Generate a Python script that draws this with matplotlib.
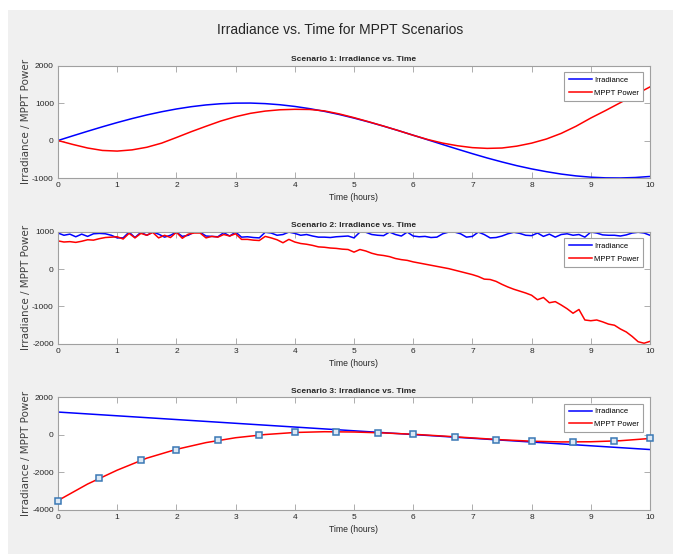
import matplotlib
matplotlib.use('Agg')
from matplotlib import pyplot as plt
from matplotlib.patches import Rectangle
import numpy as np

# scenario 1 (0.25 h step)
t1 = np.arange(0, 10.01, 0.25)
irr1 = [0, 125, 247, 366, 479, 585, 682, 767, 841, 902, 949, 981, 997, 999, 984, 954,
        909, 850, 778, 694, 598, 494, 382, 264, 141, 17, -108, -231, -351, -466, -572,
        -671, -757, -831, -895, -944, -978, -996, -999, -987, -959]
pow1 = [0, -105, -200, -265, -282, -250, -180, -70, 80, 235, 380, 520, 635, 725,
        785, 820, 832, 828, 790, 710, 610, 500, 385, 265, 140, 25, -70, -140, -190,
        -210, -200, -150, -70, 40, 190, 380, 600, 800, 1010, 1220, 1430]

# scenario 2 (0.1 h step)
t2 = np.arange(0, 10.001, 0.1)
irr2 = [960, 900, 930, 860, 930, 870, 940, 950, 940, 900, 830,
        830, 985, 840, 980, 900, 985, 930, 850, 900, 985,
        870, 900, 985, 980, 880, 870, 860, 970, 880, 985,
        850, 860, 840, 830, 980, 960, 900, 920, 985, 950,
        900, 920, 880, 850, 850, 840, 860, 870, 880, 830,
        985, 980, 920, 900, 890, 985, 920, 880, 985, 880,
        860, 870, 840, 850, 940, 985, 985, 940, 850, 870,
        985, 920, 830, 840, 880, 940, 980, 950, 900, 890,
        960, 870, 930, 850, 920, 940, 900, 920, 850, 985,
        960, 910, 900, 900, 880, 910, 960, 980, 960, 900]
pow2 = [750, 720, 730, 710, 740, 780, 770, 810, 840, 850, 860,
        800, 950, 830, 950, 900, 975, 830, 900, 840, 980,
        820, 930, 960, 960, 830, 870, 850, 920, 880, 940,
        790, 790, 770, 760, 870, 830, 780, 700, 790, 720,
        680, 660, 630, 590, 580, 560, 550, 530, 520, 450,
        520, 480, 420, 380, 360, 330, 280, 250, 230, 190,
        160, 130, 100, 70, 40, 10, -30, -70, -110, -150,
        -200, -270, -280, -330, -410, -480, -540, -590, -640, -700,
        -820, -760, -900, -870, -960, -1060, -1180, -1080, -1360, -1380,
        -1360, -1410, -1470, -1500, -1600, -1680, -1800, -1940, -1980, -1930]

# scenario 3
t3_irr = [0, 10]
irr3 = [1200, -800]
t3 = np.arange(0, 10.01, 0.5)
pow3 = [-3520, -2640, -1900, -1260, -790, -430, -170, 0, 110, 150, 135, 85, 15,
        -80, -180, -280, -355, -395, -385, -330, -210]
t3_mark = [0, 0.7, 1.4, 2.0, 2.7, 3.4, 4.0, 4.7, 5.4, 6.0, 6.7, 7.4, 8.0, 8.7, 9.4, 10.0]
pow3_mark = [-3520, -2320, -1375, -800, -300, -20, 120, 140, 100, 20, -140, -270,
             -360, -390, -360, -210]

plt.rcParams['axes.unicode_minus'] = False
narrow = ['Liberation Sans', 'DejaVu Sans']

fig = plt.figure(figsize=(6.73, 5.54), dpi=100, facecolor='white')
fig.patches.append(Rectangle((8 / 673, 0), 1, 1 - 10 / 554, transform=fig.transFigure,
                             facecolor='#f0f0f0', edgecolor='none', zorder=-10))

fig.text(0.505, 1 - 30 / 554, 'Irradiance vs. Time for MPPT Scenarios', ha='center',
         va='center', fontsize=10, family=narrow, color='#262626')

panels = [
    (0.6787, 'Scenario 1: Irradiance vs. Time', (-1000, 2000), [-1000, 0, 1000, 2000]),
    (0.3791, 'Scenario 2: Irradiance vs. Time', (-2000, 1000), [-2000, -1000, 0, 1000]),
    (0.0803, 'Scenario 3: Irradiance vs. Time', (-4000, 2000), [-4000, -2000, 0, 2000]),
]
axes = []
for bottom, title, ylim, yticks in panels:
    ax = fig.add_axes([0.0862, bottom, 0.8796, 0.203])
    ax.set_xlim(0, 10)
    ax.set_ylim(*ylim)
    ax.set_xticks(range(11))
    ax.set_yticks(yticks)
    ax.tick_params(direction='in', top=True, right=True, length=4, width=0.6,
                   color='#a0a0a0', labelsize=6, labelcolor='#262626', pad=3)
    for lab in ax.get_xticklabels() + ax.get_yticklabels():
        lab.set_family(narrow)
    for s in ax.spines.values():
        s.set_color('#a0a0a0')
        s.set_linewidth(0.8)
    ax.set_title(title, fontsize=6, fontweight='bold', family=narrow, pad=3, color='#262626')
    ax.set_xlabel('Time (hours)', fontsize=6.2, family=narrow, labelpad=3, color='#262626')
    ax.set_ylabel('Irradiance / MPPT Power', fontsize=7.5, color='#404040')
    ax.yaxis.set_label_coords(-0.046, 0.5)
    axes.append(ax)

ax1, ax2, ax3 = axes
ax1.plot(t1, irr1, color='#0000ff', lw=1.1, label='Irradiance')
ax1.plot(t1, pow1, color='#ff0000', lw=1.1, label='MPPT Power')
ax2.plot(t2, irr2, color='#0000ff', lw=1.1, label='Irradiance')
ax2.plot(t2, pow2, color='#ff0000', lw=1.1, label='MPPT Power')
ax3.plot(t3_irr, irr3, color='#0000ff', lw=1.1, label='Irradiance')
ax3.plot(t3, pow3, color='#ff0000', lw=1.1, label='MPPT Power')
ax3.plot(t3_mark, pow3_mark, ls='none', marker='s', ms=4, mfc='#dbe8f5',
         mec='#3a78b5', mew=1.1, clip_on=False, zorder=5)

for ax in axes:
    leg = ax.legend(loc='upper right', prop={'family': narrow, 'size': 5.5},
                    frameon=True, fancybox=False, edgecolor='#a0a0a0', framealpha=1,
                    handlelength=3.0, borderpad=0.55, labelspacing=0.7, handletextpad=0.3,
                    borderaxespad=0, bbox_to_anchor=(0.988, 0.94))
    leg.get_frame().set_linewidth(0.8)

plt.savefig('out.png', dpi=100, facecolor=fig.get_facecolor())
